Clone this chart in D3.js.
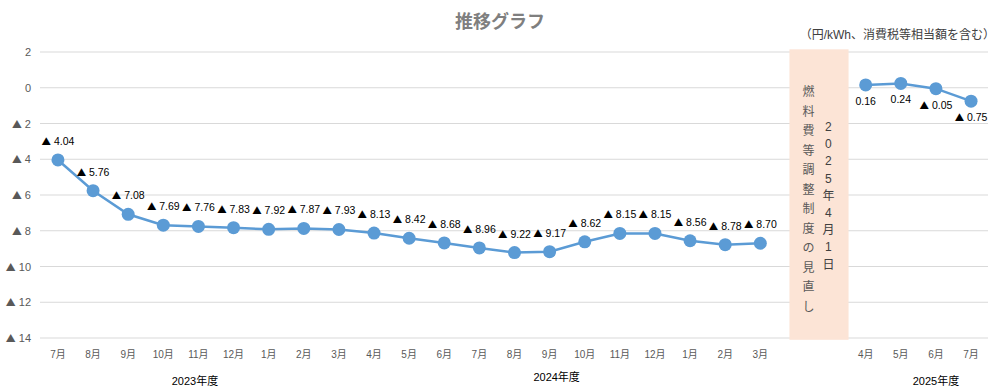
<!DOCTYPE html>
<html>
<head>
<meta charset="utf-8">
<script src="https://cdnjs.cloudflare.com/ajax/libs/d3/7.8.5/d3.min.js"></script>
<style>
  body { margin: 0; background: #fff; }
  text { font-family: "Liberation Sans", "Noto Sans CJK JP", sans-serif; }
  .tri { font-family: "Noto Sans CJK JP", sans-serif; }
</style>
</head>
<body>
<svg id="chart" width="1000" height="392"></svg>
<script>
// Data
var months = ["7月","8月","9月","10月","11月","12月","1月","2月","3月","4月","5月","6月","7月","8月","9月","10月","11月","12月","1月","2月","3月","", "", "4月","5月","6月","7月"];
var values1 = [-4.04, -5.76, -7.08, -7.69, -7.76, -7.83, -7.92, -7.87, -7.93, -8.13, -8.42, -8.68, -8.96, -9.22, -9.17, -8.62, -8.15, -8.15, -8.56, -8.78, -8.70];
var values2 = [0.16, 0.24, -0.05, -0.75];
var yTicks = [2, 0, -2, -4, -6, -8, -10, -12, -14];
var years = ["2023年度", "2024年度", "2025年度"];
var yearPos = [3.9, 14.2, 25.0]; // in category slots
var bandText1 = "燃料費等調整制度の見直し";
var bandText2 = "2025年4月1日";

var svg = d3.select("#chart");
var slots = d3.range(months.length);

var x = d3.scaleBand().domain(slots).range([40.4, 988.6]);
var y = d3.scaleLinear().domain([2, -14]).range([52, 338]);
var cx = function(i) { return x(i) + x.bandwidth() / 2; };

// writes "▲ n" with a bigger triangle glyph
function signed(sel, v, digits) {
    if (v < 0) {
        sel.append("tspan").attr("class", "tri").attr("font-size", "0.9em").text("▲");
        sel.append("tspan").text(" " + Math.abs(v).toFixed(digits));
    } else {
        sel.append("tspan").text(v.toFixed(digits));
    }
}

// gridlines
svg.append("g").selectAll("line").data(yTicks).enter().append("line")
    .attr("x1", 40).attr("x2", 988)
    .attr("y1", function(d) { return y(d); })
    .attr("y2", function(d) { return y(d); })
    .attr("stroke", "#d9d9d9").attr("stroke-width", 1);

// y labels
svg.append("g").selectAll("text").data(yTicks).enter().append("text")
    .attr("x", 31)
    .attr("y", function(d) { return y(d) + 4; })
    .attr("text-anchor", "end")
    .attr("font-size", "11px")
    .attr("fill", "#595959")
    .each(function(d) { signed(d3.select(this), d, 0); });

// shaded band (slots 21-22)
var bx0 = cx(21) - 6, bx1 = cx(22) + 18;
svg.append("rect")
    .attr("x", bx0).attr("y", y(2.15))
    .attr("width", bx1 - bx0).attr("height", y(-14.1) - y(2.15))
    .attr("fill", "#fce4d6");

svg.append("g").selectAll("text").data(bandText1.split("")).enter().append("text")
    .attr("x", bx0 + 19)
    .attr("y", function(d, i) { return 96 + i * 19.5; })
    .attr("text-anchor", "middle")
    .attr("font-size", "12px")
    .attr("fill", "#595959")
    .text(function(d) { return d; });

svg.append("g").selectAll("text").data(bandText2.split("")).enter().append("text")
    .attr("x", bx0 + 39)
    .attr("y", function(d, i) { return 131 + i * 17.2; })
    .attr("text-anchor", "middle")
    .attr("font-size", "12px")
    .attr("fill", "#404040")
    .text(function(d) { return d; });

// lines
var line = d3.line().x(function(d) { return cx(d.i); }).y(function(d) { return y(d.v); });
var s1 = values1.map(function(v, i) { return {i: i, v: v}; });
var s2 = values2.map(function(v, i) { return {i: i + 23, v: v}; });

[s1, s2].forEach(function(s, k) {
    svg.append("path").datum(s)
        .attr("d", line)
        .attr("fill", "none")
        .attr("stroke", "#5b9bd5")
        .attr("stroke-width", 2.5);
    svg.append("g").selectAll("circle").data(s).enter().append("circle")
        .attr("cx", function(d) { return cx(d.i); })
        .attr("cy", function(d) { return y(d.v); })
        .attr("r", 6.5)
        .attr("fill", "#5b9bd5");
    // labels: above for first series, below for second
    svg.append("g").selectAll("text").data(s).enter().append("text")
        .attr("x", function(d) { return cx(d.i); })
        .attr("y", function(d) { return y(d.v) + (k == 0 ? -15 : 20); })
        .attr("text-anchor", "middle")
        .attr("font-size", "10.5px")
        .attr("fill", "#000")
        .each(function(d) { signed(d3.select(this), d.v, 2); });
});

// x labels
svg.append("g").selectAll("text").data(slots).enter().append("text")
    .attr("x", function(d) { return cx(d); })
    .attr("y", 358)
    .attr("text-anchor", "middle")
    .attr("font-size", "10px")
    .attr("fill", "#595959")
    .text(function(d) { return months[d]; });

svg.append("g").selectAll("text").data(years).enter().append("text")
    .attr("x", function(d, i) { return x(0) + x.bandwidth() * (yearPos[i] + 0.5); })
    .attr("y", function(d, i) { return i == 1 ? 381 : 385; })
    .attr("text-anchor", "middle")
    .attr("font-size", "11px")
    .attr("fill", "#000")
    .text(function(d) { return d; });

// title
svg.append("text")
    .attr("x", 500).attr("y", 28)
    .attr("text-anchor", "middle")
    .attr("font-size", "18px")
    .attr("font-weight", "bold")
    .attr("fill", "#7f7f7f")
    .text("推移グラフ");

svg.append("text")
    .attr("x", 995).attr("y", 39)
    .attr("text-anchor", "end")
    .attr("font-size", "12px")
    .attr("fill", "#404040")
    .text("（円/kWh、消費税等相当額を含む）");
</script>
</body>
</html>
